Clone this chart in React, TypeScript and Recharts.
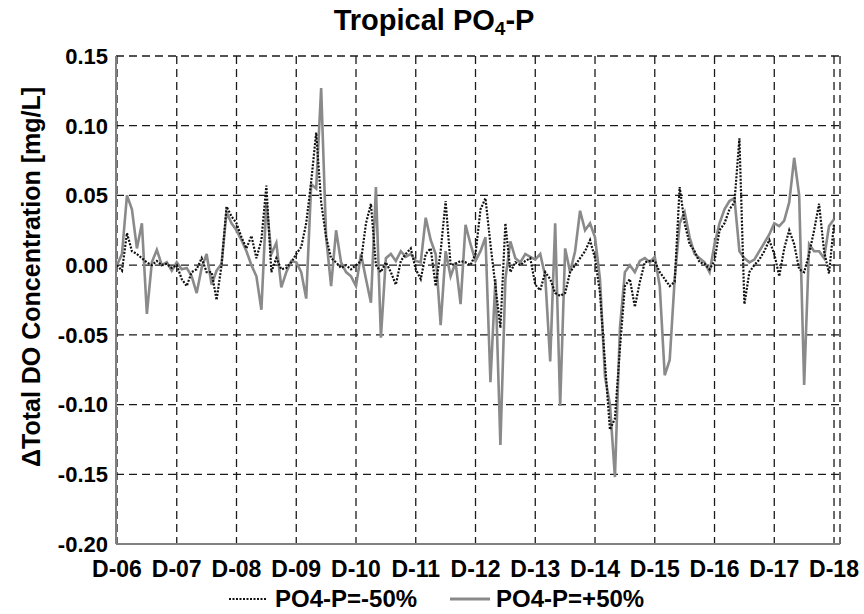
import React from 'react';
import { LineChart, Line, XAxis, YAxis, CartesianGrid, Legend } from 'recharts';

// month index from the start of the record (one value per month)
const yearLabels = ['D-06', 'D-07', 'D-08', 'D-09', 'D-10', 'D-11', 'D-12', 'D-13', 'D-14', 'D-15', 'D-16', 'D-17', 'D-18'];
const yTicks = [-0.2, -0.15, -0.1, -0.05, 0, 0.05, 0.1, 0.15];

// PO4-P = -50% (dotted)
const minus50 = [
  0.000, -0.004, 0.023, 0.010, 0.008, 0.005, 0.002, 0.000, 0.003, 0.000, 0.001, -0.002,
  0.000, -0.010, -0.015, -0.005, -0.003, 0.005, -0.005, -0.005, -0.025, 0.000, 0.042, 0.035,
  0.030, 0.020, 0.012, 0.021, 0.005, 0.018, 0.057, -0.005, 0.005, -0.003, -0.002, 0.002,
  0.008, 0.013, 0.030, 0.060, 0.095, 0.045, 0.020, 0.005, 0.002, -0.002, 0.000, -0.003,
  0.000, 0.003, 0.030, 0.044, 0.000, -0.005, 0.002, -0.005, -0.014, 0.003, 0.008, 0.012,
  -0.003, -0.010, 0.008, 0.012, -0.015, 0.010, 0.046, 0.000, 0.001, 0.003, 0.002, 0.000,
  0.008, 0.040, 0.048, 0.015, -0.015, -0.045, 0.030, -0.005, 0.002, 0.000, 0.003, 0.005,
  -0.014, -0.018, -0.005, -0.010, -0.020, -0.022, -0.020, -0.005, 0.000, 0.005, 0.010, 0.018,
  0.005, -0.020, -0.070, -0.118, -0.110, -0.060, -0.015, -0.010, -0.030, -0.012, 0.002, 0.003,
  0.003, -0.005, -0.010, -0.015, -0.012, 0.056, 0.030, 0.015, 0.010, 0.002, 0.001, -0.003,
  0.003, 0.025, 0.030, 0.040, 0.045, 0.091, -0.028, -0.005, 0.000, 0.004, 0.010, 0.018,
  0.008, -0.008, 0.012, 0.025, 0.015, -0.003, -0.005, 0.008, 0.025, 0.044, 0.010, -0.006, 0.030,
];

// PO4-P = +50% (solid grey)
const plus50 = [
  0.000, 0.008, 0.050, 0.040, 0.012, 0.030, -0.035, 0.002, 0.011, 0.000, 0.002, -0.004,
  0.002, -0.003, -0.002, -0.008, -0.020, -0.002, 0.008, -0.014, -0.004, 0.001, 0.038, 0.030,
  0.025, 0.018, 0.010, 0.000, -0.008, -0.032, 0.045, 0.008, 0.016, -0.016, -0.005, 0.003,
  0.002, -0.005, -0.024, 0.058, 0.055, 0.127, 0.020, -0.015, 0.025, 0.002, -0.005, -0.008,
  -0.015, 0.008, -0.010, -0.027, 0.056, -0.052, 0.005, 0.008, 0.003, 0.010, 0.006, 0.008,
  0.003, 0.002, 0.034, 0.018, 0.008, -0.043, 0.010, -0.008, 0.002, -0.028, 0.029, 0.015,
  0.003, 0.010, 0.020, -0.084, -0.010, -0.129, -0.010, 0.017, 0.005, 0.002, 0.008, 0.006,
  0.004, 0.008, -0.008, -0.069, 0.030, -0.101, 0.012, -0.005, 0.010, 0.039, 0.025, 0.030,
  0.020, -0.010, -0.080, -0.100, -0.152, -0.045, -0.005, 0.000, -0.005, 0.003, 0.005, 0.002,
  0.006, -0.015, -0.079, -0.068, -0.010, 0.030, 0.038, 0.020, 0.008, 0.005, 0.002, -0.005,
  0.015, 0.030, 0.040, 0.046, 0.048, 0.010, 0.005, 0.002, 0.004, 0.010, 0.016, 0.022,
  0.030, 0.028, 0.032, 0.045, 0.077, 0.050, -0.086, 0.015, 0.010, 0.010, 0.005, 0.028, 0.033,
];

const FONT = '"Liberation Sans", Arial, Helvetica, sans-serif';

const data = plus50.map((v, i) => ({ m: i, plus: v, minus: minus50[i] }));
const xTicks = yearLabels.map((_, i) => i * 12);

const YTitle = () => (
  <text
    transform="translate(31,277) rotate(-90)"
    textAnchor="middle"
    dominantBaseline="central"
    fontFamily={FONT}
    fontWeight="bold"
    fontSize={25}
    fill="#000"
  >
    ΔTotal DO Concentration [mg/L]
  </text>
);

const renderLegend = () => (
  <div
    style={{
      display: 'flex',
      alignItems: 'center',
      paddingLeft: 229,
      fontFamily: FONT,
      fontWeight: 'bold',
      fontSize: 24,
      color: '#000',
      lineHeight: '30px',
    }}
  >
    <svg width={38} height={10}>
      <line x1={0} y1={5} x2={38} y2={5} stroke="#111" strokeWidth={2.2} strokeDasharray="2 1.5" />
    </svg>
    <span style={{ marginLeft: 8 }}>PO4-P=-50%</span>
    <svg width={40} height={10} style={{ marginLeft: 33 }}>
      <line x1={0} y1={5} x2={40} y2={5} stroke="#8a8a8a" strokeWidth={3} />
    </svg>
    <span style={{ marginLeft: 6 }}>PO4-P=+50%</span>
  </div>
);

const App: React.FC = () => {
  return (
    <div style={{ position: 'absolute', left: 0, top: 0, width: 864, height: 614, background: '#fff' }}>
      <div
        style={{
          position: 'absolute',
          left: 0,
          top: 6,
          width: 868,
          textAlign: 'center',
          fontFamily: FONT,
          fontWeight: 'bold',
          fontSize: 29,
          lineHeight: '29px',
          color: '#000',
        }}
      >
        Tropical PO<sub style={{ fontSize: 19, lineHeight: 0, verticalAlign: '-0.25em' }}>4</sub>-P
      </div>
      <LineChart
        width={864}
        height={614}
        data={data}
        margin={{ top: 56, right: 24, left: 0, bottom: 0 }}
        style={{ position: 'absolute', left: 0, top: 0 }}
      >
        <CartesianGrid stroke="#1a1a1a" strokeWidth={1.3} strokeDasharray="8 5" />
        <XAxis
          dataKey="m"
          type="number"
          domain={[-0.2, 145.2]}
          ticks={xTicks}
          interval={0}
          tickFormatter={(v: number) => yearLabels[Math.round(v / 12)]}
          height={40}
          tickSize={0}
          tickMargin={17}
          tickLine={false}
          axisLine={{ stroke: '#808080', strokeWidth: 2 }}
          tick={{ fontFamily: FONT, fontWeight: 'bold', fontSize: 23, fill: '#000' }}
        />
        <XAxis xAxisId="top" orientation="top" height={0} tick={false} tickLine={false} axisLine={{ stroke: '#808080', strokeWidth: 2 }} />
        <YAxis
          type="number"
          domain={[-0.2, 0.15]}
          ticks={yTicks}
          interval={0}
          tickFormatter={(v: number) => v.toFixed(2)}
          width={116}
          tickSize={0}
          tickMargin={8}
          tickLine={false}
          axisLine={{ stroke: '#808080', strokeWidth: 2 }}
          tick={{ fontFamily: FONT, fontWeight: 'bold', fontSize: 22, fill: '#000' }}
          label={<YTitle />}
        />
        <YAxis yAxisId="right" orientation="right" width={0} tick={false} tickLine={false} axisLine={{ stroke: '#808080', strokeWidth: 2 }} />
        <Legend verticalAlign="bottom" height={30} content={renderLegend} wrapperStyle={{ left: 0, width: 864 }} />
        <Line
          type="linear"
          dataKey="plus"
          name="PO4-P=+50%"
          stroke="#8a8a8a"
          strokeWidth={2.6}
          dot={false}
          activeDot={false}
          isAnimationActive={false}
        />
        <Line
          type="linear"
          dataKey="minus"
          name="PO4-P=-50%"
          stroke="#111"
          strokeWidth={2.2}
          strokeDasharray="2 1.5"
          dot={false}
          activeDot={false}
          isAnimationActive={false}
        />
      </LineChart>
    </div>
  );
};

export default App;
